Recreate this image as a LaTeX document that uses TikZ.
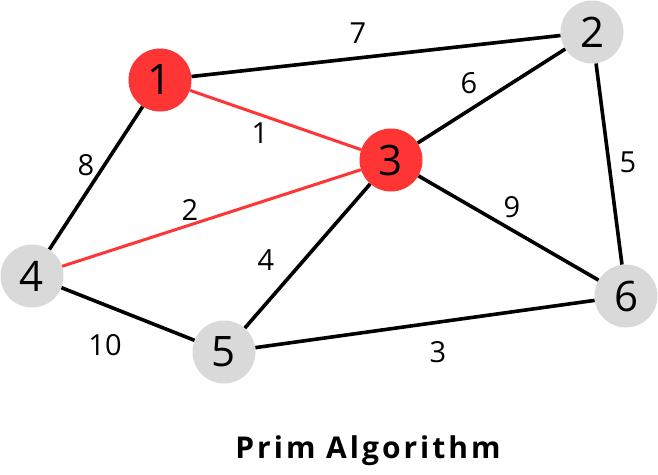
\documentclass[tikz,border=0pt]{standalone}
\usepackage{fontspec}
\setmainfont{Open Sans}
\newfontfamily\titlefont[LetterSpace=10]{Open Sans}
\definecolor{primred}{HTML}{FF3434}
\definecolor{primgray}{HTML}{D9D9D9}
\tikzset{vertex/.style={circle,minimum size=63pt,inner sep=0pt,fill=primgray,font=\fontsize{42}{42}\selectfont},
  picked/.style={vertex,fill=primred},
  weight/.style={font=\fontsize{29}{29}\selectfont,inner sep=0pt},
  edge/.style={line width=3.6pt,black},
  tree/.style={line width=3pt,primred}}

\begin{document}
\begin{tikzpicture}[x=1pt,y=-1pt]
            \useasboundingbox (0,0) rectangle (658,474);
            \node[picked] (1) at (160,80) {1};
            \node[vertex] (2) at (592,32) {2};
            \node[picked] (3) at (391,160) {3};
            \node[vertex] (4) at (32,276) {4};
            \node[vertex] (5) at (224,352) {5};
            \node[vertex] (6) at (626,296) {6};

            \draw[edge] (1) -- (2);
            \draw[edge] (1) -- (4);
            \draw[edge] (3) -- (2);
            \draw[edge] (2) -- (6);
            \draw[edge] (3) -- (5);
            \draw[edge] (3) -- (6);
            \draw[edge] (4) -- (5);
            \draw[edge] (5) -- (6);
            \draw[tree] (1) -- (3);
            \draw[tree] (4) -- (3);

            \node[weight] (w12) at (358,33) {7};
            \node[weight] (w23) at (469,83) {6};
            \node[weight] (w13) at (260,133) {1};
            \node[weight] (w14) at (86,165) {8};
            \node[weight] (w26) at (628,162) {5};
            \node[weight] (w34) at (190,210) {2};
            \node[weight] (w36) at (512,207) {9};
            \node[weight] (w35) at (266,260) {4};
            \node[weight] (w45) at (105,345) {10};
            \node[weight] (w56) at (438,352) {3};

            \node[font=\titlefont\fontsize{30}{30}\selectfont\bfseries] (title) at (368,451) {Prim Algorithm};
        \end{tikzpicture}
\end{document}
